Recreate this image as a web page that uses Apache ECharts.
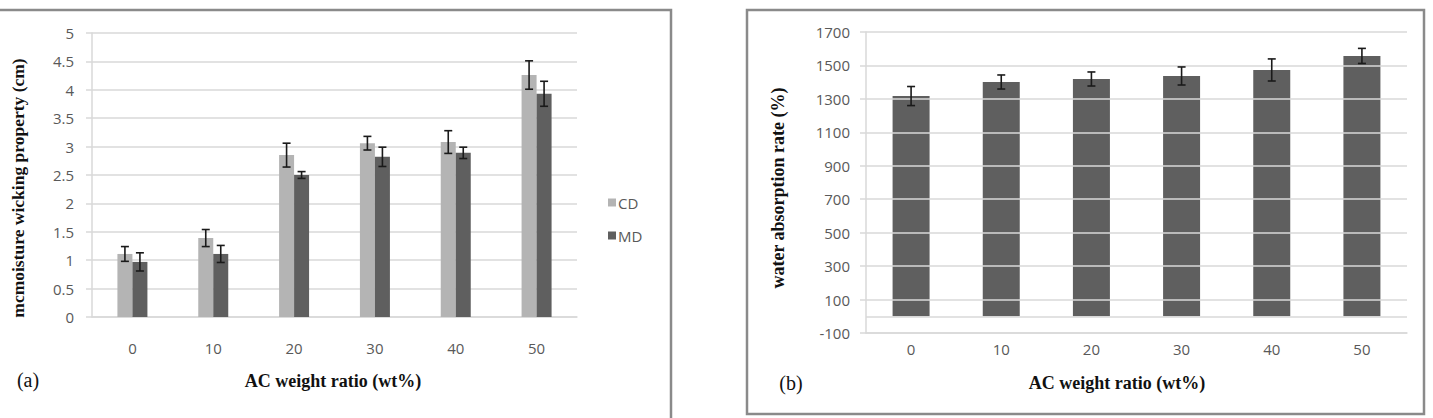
<!DOCTYPE html>
<html>
<head>
<meta charset="utf-8">
<script src="https://cdn.jsdelivr.net/npm/echarts@6/dist/echarts.min.js"></script>
<style>
  html, body { margin: 0; padding: 0; background: #fff; }
  #main { width: 1433px; height: 418px; }
</style>
</head>
<body>
<div id="main"></div>
<script>
// categories (AC weight ratio, wt%)
const categories = ['0', '10', '20', '30', '40', '50'];

// (a) wicking property, cm
const cdValues = [1.11, 1.39, 2.85, 3.06, 3.08, 4.26];
const cdErrors = [0.13, 0.15, 0.21, 0.12, 0.20, 0.25];
const mdValues = [0.97, 1.11, 2.50, 2.82, 2.89, 3.93];
const mdErrors = [0.16, 0.15, 0.06, 0.17, 0.10, 0.22];

// (b) water absorption rate, %
const absorptionValues = [1317, 1401, 1419, 1437, 1473, 1557];
const absorptionErrors = [57, 42, 42, 54, 66, 45];
const absorptionTicks = [-100, 100, 300, 500, 700, 900, 1100, 1300, 1500, 1700];

const labelFont = 'Open Sans';
const titleFont = 'Liberation Serif';
const gridColor = '#d9d9d9';
const labelColor = '#595959';

// error bar drawer, offset in px from category centre
function errorBars(offset) {
    return function (params, api) {
        const i = api.value(0);
        const v = api.value(1);
        const e = api.value(2);
        const top = api.coord([i, v + e]);
        const bot = api.coord([i, v - e]);
        const x = top[0] + offset;
        const style = { stroke: '#1a1a1a', lineWidth: 1.6 };
        return {
            type: 'group',
            children: [
                { type: 'line', shape: { x1: x, y1: top[1], x2: x, y2: bot[1] }, style: style },
                { type: 'line', shape: { x1: x - 4, y1: top[1], x2: x + 4, y2: top[1] }, style: style },
                { type: 'line', shape: { x1: x - 4, y1: bot[1], x2: x + 4, y2: bot[1] }, style: style }
            ]
        };
    };
}

const chart = echarts.init(document.getElementById('main'), null, { renderer: 'svg' });

const option = {
    animation: false,
    backgroundColor: '#fff',
    textStyle: { fontFamily: labelFont },
    graphic: [
        // panel frames
        { type: 'rect', shape: { x: -4, y: 10, width: 675, height: 420 },
          style: { fill: 'none', stroke: '#8a8a8a', lineWidth: 2.5 }, z: 100 },
        { type: 'rect', shape: { x: 747, y: 10, width: 677, height: 404 },
          style: { fill: 'none', stroke: '#8a8a8a', lineWidth: 2.5 }, z: 100 },
        // axis titles
        { type: 'text', x: 18, y: 188, rotation: Math.PI / 2,
          style: { text: 'mcmoisture wicking property (cm)', font: 'bold 17.5px ' + titleFont,
                   fill: '#111', align: 'center', verticalAlign: 'middle' } },
        { type: 'text', x: 333, y: 381,
          style: { text: 'AC weight ratio (wt%)', font: 'bold 18px ' + titleFont,
                   fill: '#111', align: 'center', verticalAlign: 'middle' } },
        { type: 'text', x: 28, y: 380,
          style: { text: '(a)', font: '20px ' + titleFont,
                   fill: '#111', align: 'center', verticalAlign: 'middle' } },
        { type: 'text', x: 778, y: 188, rotation: Math.PI / 2,
          style: { text: 'water absorption rate (%)', font: 'bold 18px ' + titleFont,
                   fill: '#111', align: 'center', verticalAlign: 'middle' } },
        { type: 'text', x: 1117, y: 383,
          style: { text: 'AC weight ratio (wt%)', font: 'bold 18px ' + titleFont,
                   fill: '#111', align: 'center', verticalAlign: 'middle' } },
        { type: 'text', x: 791, y: 383,
          style: { text: '(b)', font: '20px ' + titleFont,
                   fill: '#111', align: 'center', verticalAlign: 'middle' } }
    ],
    legend: {
        data: ['CD', 'MD'],
        orient: 'vertical',
        left: 603,
        top: 190,
        itemWidth: 8,
        itemHeight: 8,
        itemGap: 18,
        icon: 'rect',
        textStyle: { color: labelColor, fontSize: 15, fontFamily: labelFont, padding: [0, 0, 0, -3] }
    },
    grid: [
        { left: 92, top: 33, right: 856, bottom: 101 },
        { left: 866, top: 32, right: 26, bottom: 85 }
    ],
    xAxis: [
        {
            gridIndex: 0,
            type: 'category',
            data: categories,
            axisLine: { lineStyle: { color: gridColor, width: 1.5 } },
            axisTick: { show: false },
            axisLabel: { color: labelColor, fontSize: 15, margin: 23 }
        },
        {
            gridIndex: 1,
            type: 'category',
            data: categories,
            axisLine: { onZero: false, lineStyle: { color: gridColor, width: 1.5 } },
            axisTick: { show: false },
            axisLabel: { color: labelColor, fontSize: 15, margin: 8 }
        }
    ],
    yAxis: [
        {
            gridIndex: 0,
            type: 'value',
            min: 0,
            max: 5,
            interval: 0.5,
            axisLine: { show: true, lineStyle: { color: gridColor, width: 1.5 } },
            axisTick: { show: true, length: 6, lineStyle: { color: gridColor, width: 1.5 } },
            splitLine: { lineStyle: { color: gridColor, width: 1.5 } },
            axisLabel: { color: labelColor, fontSize: 15, margin: 18 }
        },
        {
            gridIndex: 1,
            type: 'value',
            min: -100,
            max: 1700,
            axisLine: { show: true, lineStyle: { color: gridColor, width: 1.5 } },
            axisTick: { show: true, length: 6, customValues: absorptionTicks,
                        lineStyle: { color: gridColor, width: 1.5 } },
            splitLine: { show: false },
            axisLabel: { color: labelColor, fontSize: 15, margin: 16,
                         customValues: absorptionTicks, formatter: v => String(v) }
        }
    ],
    series: [
        {
            name: 'CD',
            type: 'bar',
            xAxisIndex: 0,
            yAxisIndex: 0,
            data: cdValues,
            barWidth: 15,
            barGap: '0%',
            itemStyle: { color: '#b4b4b4' },
            z: 3
        },
        {
            name: 'MD',
            type: 'bar',
            xAxisIndex: 0,
            yAxisIndex: 0,
            data: mdValues,
            barWidth: 15,
            barGap: '0%',
            itemStyle: { color: '#5f5f5f' },
            z: 3
        },
        {
            type: 'custom',
            xAxisIndex: 0,
            yAxisIndex: 0,
            renderItem: errorBars(-7.5),
            data: cdValues.map((v, i) => [i, v, cdErrors[i]]),
            z: 5
        },
        {
            type: 'custom',
            xAxisIndex: 0,
            yAxisIndex: 0,
            renderItem: errorBars(7.5),
            data: mdValues.map((v, i) => [i, v, mdErrors[i]]),
            z: 5
        },
        {
            // gridlines of (b) plus the zero line
            type: 'line',
            xAxisIndex: 1,
            yAxisIndex: 1,
            data: [],
            z: 1,
            markLine: {
                silent: true,
                symbol: 'none',
                label: { show: false },
                lineStyle: { color: gridColor, width: 1.5, type: 'solid' },
                data: absorptionTicks.concat([0]).map(t => ({ yAxis: t }))
            }
        },
        {
            name: 'absorption',
            type: 'bar',
            xAxisIndex: 1,
            yAxisIndex: 1,
            data: absorptionValues,
            barWidth: 37,
            itemStyle: { color: '#5f5f5f' },
            z: 3
        },
        {
            type: 'custom',
            xAxisIndex: 1,
            yAxisIndex: 1,
            renderItem: errorBars(0),
            data: absorptionValues.map((v, i) => [i, v, absorptionErrors[i]]),
            z: 5
        }
    ]
};

chart.setOption(option);
</script>
</body>
</html>
